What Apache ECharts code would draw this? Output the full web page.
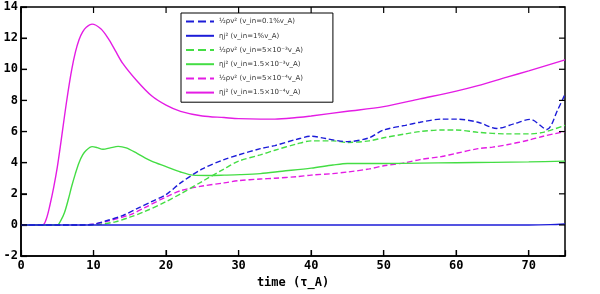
<!DOCTYPE html>
<html><head><meta charset="utf-8">
<script src="https://cdn.jsdelivr.net/npm/echarts@6/dist/echarts.min.js"></script>
<style>html,body{margin:0;padding:0;background:#fff}#c{width:600px;height:294px}</style>
</head><body><div id="c"></div>
<script>
var seriesNames = [
  '½ρv² (v_in=0.1%v_A)',
  'ηj² (v_in=1%v_A)',
  '½ρv² (v_in=5×10⁻³v_A)',
  'ηj² (v_in=1.5×10⁻³v_A)',
  '½ρv² (v_in=5×10⁻⁴v_A)',
  'ηj² (v_in=1.5×10⁻⁴v_A)'
];
var blueDashT = [0,8,10,12,14,16,18,20,22,25,28,30,33,35,38,40,42,45,48,50,53,55,58,60,63,65.6,68,70.2,72.5,74,75];
var blueDashV = [0,0,0.05,0.3,0.6,1.05,1.5,1.95,2.7,3.6,4.2,4.5,4.9,5.1,5.5,5.7,5.55,5.35,5.6,6.1,6.4,6.6,6.8,6.8,6.6,6.2,6.5,6.78,6.13,7.4,8.4];
var blueSolidT = [0,10,20,30,40,50,60,70,73,75];
var blueSolidV = [0,0,0,0,0,0,0,0,0.02,0.06];
var greenDashT = [0,9,11,13,15,17,20,22,25,28,30,33,35,38,40,43,45,48,50,53,55,58,60,63,67,70,72,75];
var greenDashV = [0,0,0.05,0.2,0.5,0.85,1.5,2.0,2.8,3.6,4.1,4.5,4.8,5.2,5.4,5.4,5.3,5.4,5.6,5.85,6.0,6.1,6.1,5.95,5.85,5.85,5.95,6.4];
var greenSolidT = [0,5,5.5,6,6.5,7,7.5,8,8.5,9,9.8,10.5,11.3,12.3,13.4,14.5,16,18,20,22,23.7,26,28,30.2,33,36,40,43,45,50,55,60,65,70,75];
var greenSolidV = [0,0,0.3,0.8,1.6,2.5,3.3,4.0,4.5,4.8,5.03,4.97,4.86,4.95,5.05,4.95,4.6,4.1,3.75,3.4,3.2,3.18,3.2,3.23,3.3,3.45,3.65,3.85,3.95,3.95,3.97,4.0,4.02,4.05,4.1];
var magDashT = [0,8,10,12,15,17,20,22,25,28,30,33,35,38,40,43,45,48,50,53,55,58,60,63,65,67,70,72,75];
var magDashV = [0,0,0.05,0.25,0.65,1.1,1.8,2.2,2.5,2.7,2.85,2.95,3.0,3.1,3.2,3.3,3.4,3.6,3.8,4.0,4.2,4.4,4.6,4.9,5.0,5.15,5.45,5.7,6.0];
var magSolidT = [0,3,3.5,4,4.5,5,5.5,6,6.5,7,7.5,8,8.5,9,9.8,11,12,13,14,16,18,20,22,25,28,30,33,35,38,40,45,50,55,60,63,67,70,75];
var magSolidV = [0,0,0.4,1.3,2.4,3.7,5.3,7.0,8.6,10.0,11.1,11.9,12.4,12.7,12.9,12.6,12.0,11.2,10.4,9.25,8.3,7.7,7.3,7.0,6.9,6.83,6.8,6.8,6.9,7.0,7.3,7.6,8.1,8.6,8.95,9.5,9.9,10.6];
var xTicks = [0,10,20,30,40,50,60,70];
var yTicks = [-2,0,2,4,6,8,10,12,14];

function pairs(t, v){ return t.map(function(x,i){ return [x, v[i]]; }); }

var colors = ['#1c1cd8','#1c1cd8','#44dd44','#44dd44','#e41ce4','#e41ce4'];
var dashes = ['dashed','solid','dashed','solid','dashed','solid'];
var dataSets = [pairs(blueDashT,blueDashV), pairs(blueSolidT,blueSolidV), pairs(greenDashT,greenDashV),
  pairs(greenSolidT,greenSolidV), pairs(magDashT,magDashV), pairs(magSolidT,magSolidV)];
var X_MIN = 0, X_MAX = 75, Y_MIN = -2, Y_MAX = 14, TICK = 6;

var lab = {fontFamily:'DejaVu Sans Mono', fontWeight:'bold', fontSize:12, color:'#000'};
var series = seriesNames.map(function(n,i){
  return {name:n, type:'line', data:dataSets[i], smooth:0.3, symbol:'none', showSymbol:false,
    color:colors[i], lineStyle:{color:colors[i], width:1.4, type:dashes[i]}, z: 10-i};
});
function tickLine(x1,y1,x2,y2){ return {type:'line', shape:{x1:x1,y1:y1,x2:x2,y2:y2}, style:{stroke:'#000000', lineWidth:1.2, fill:null}}; }
series.push({
  type:'custom', silent:true, clip:false, z:20, coordinateSystem:'cartesian2d',
  encode:{x:0, y:1},
  data: xTicks.map(function(t){ return [t, Y_MIN]; }),
  renderItem:function(params, api){
    var t = api.value(0);
    var b = api.coord([t, Y_MIN]), u = api.coord([t, Y_MAX]);
    return {type:'group', children:[tickLine(b[0],b[1],b[0],b[1]-TICK), tickLine(u[0],u[1],u[0],u[1]+TICK)]};
  }
});
series.push({
  type:'custom', silent:true, clip:false, z:20, coordinateSystem:'cartesian2d',
  encode:{x:0, y:1},
  data: yTicks.map(function(v){ return [X_MIN, v]; }),
  renderItem:function(params, api){
    var v = api.value(1);
    var l = api.coord([X_MIN, v]), r = api.coord([X_MAX, v]);
    return {type:'group', children:[tickLine(l[0],l[1],l[0]+TICK,l[1]), tickLine(r[0],r[1],r[0]-TICK,r[1])]};
  }
});

var chart = echarts.init(document.getElementById('c'));
chart.setOption({
  animation:false,
  backgroundColor:'#fff',
  grid:{left:21, right:35, top:7, bottom:35, show:true, borderColor:'#000', borderWidth:1.5, backgroundColor:'transparent'},
  legend:{
    orient:'vertical', left:181, top:13,
    backgroundColor:'#fff', borderColor:'#000', borderWidth:1,
    padding:[5,30,6,4], itemGap:7, itemWidth:28, itemHeight:9,
    itemStyle:{opacity:0},
    textStyle:{fontSize:7, fontFamily:'DejaVu Sans', color:'#333'},
    data: seriesNames
  },
  xAxis:{
    type:'value', min:X_MIN, max:X_MAX, interval:10,
    axisLine:{show:true, onZero:false, lineStyle:{color:'#000', width:1.5}},
    axisTick:{show:true, inside:true, length:TICK, lineStyle:{color:'#000', width:1.2}},
    axisLabel:Object.assign({show:true, margin:4, formatter:function(v){return xTicks.indexOf(v)>=0?String(v):'';}}, lab),
    splitLine:{show:false},
    name:'time (τ_A)', nameLocation:'middle', nameGap:20,
    nameTextStyle:{fontFamily:'DejaVu Sans Mono', fontWeight:'bold', fontSize:12, color:'#000'}
  },
  yAxis:{
    type:'value', min:Y_MIN, max:Y_MAX, interval:2,
    axisLine:{show:true, onZero:false, lineStyle:{color:'#000', width:1.5}},
    axisTick:{show:true, inside:true, length:TICK, lineStyle:{color:'#000', width:1.2}},
    axisLabel:Object.assign({show:true, margin:3, formatter:function(v){return yTicks.indexOf(v)>=0?String(v):'';}}, lab),
    splitLine:{show:false}
  },
  series: series
});
</script></body></html>
